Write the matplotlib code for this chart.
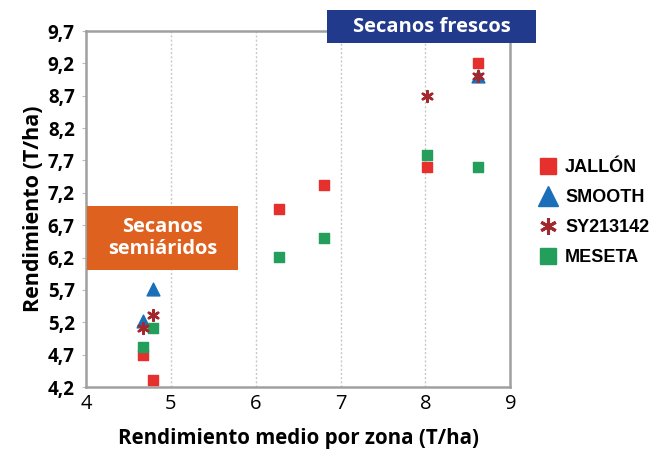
import matplotlib
matplotlib.use("Agg")
import matplotlib.pyplot as plt
from matplotlib.patches import Rectangle
from matplotlib.lines import Line2D

# Data
jallon_x = [4.67, 4.79, 6.27, 6.80, 8.02, 8.62]
jallon_y = [4.70, 4.31, 6.95, 7.32, 7.60, 9.21]
smooth_x = [4.79, 4.67, 8.62]
smooth_y = [5.72, 5.22, 9.00]
sy_x = [4.79, 4.67, 8.02, 8.62]
sy_y = [5.31, 5.11, 8.70, 9.00]
meseta_x = [4.67, 4.79, 6.27, 6.80, 8.02, 8.62]
meseta_y = [4.82, 5.11, 6.21, 6.50, 7.78, 7.60]

yticks = [4.2, 4.7, 5.2, 5.7, 6.2, 6.7, 7.2, 7.7, 8.2, 8.7, 9.2, 9.7]
ytick_labels = ["4,2", "4,7", "5,2", "5,7", "6,2", "6,7", "7,2", "7,7", "8,2", "8,7", "9,2", "9,7"]
xticks = [4, 5, 6, 7, 8, 9]
series_names = ["JALLÓN", "SMOOTH", "SY213142", "MESETA"]

RED = "#E5302E"
BLUE = "#1A6FB8"
STAR = "#A3282E"
GREEN = "#239E5B"

fig = plt.figure(figsize=(6.61, 4.5), dpi=100)
ax = fig.add_axes([0.130, 0.140, 0.642, 0.791])

ax.set_xlim(4, 9)
ax.set_ylim(4.2, 9.7)
ax.set_xticks(xticks)
ax.set_yticks(yticks)
ax.set_yticklabels(ytick_labels, fontfamily="Open Sans", fontweight="bold", fontsize=13.5)
ax.set_xticklabels([str(v) for v in xticks], fontfamily="Open Sans", fontsize=14.5)
ax.tick_params(axis="y", length=3, color="#bbbbbb", pad=5)
ax.tick_params(axis="x", length=0, pad=5)

for v in [5, 6, 7, 8]:
    ax.axvline(v, color="#c8c8c8", linestyle=(0, (1.5, 1.5)), linewidth=1.0, zorder=0)

for s in ax.spines.values():
    s.set_color("#a0a0a0")
    s.set_linewidth(1.8)

ax.scatter(jallon_x, jallon_y, marker="s", s=60, color=RED, zorder=3)
ax.scatter(smooth_x, smooth_y, marker="^", s=85, color=BLUE, zorder=3)
ax.scatter(sy_x, sy_y, marker=(6, 2, 0), s=60, color=STAR, linewidths=1.8, zorder=4)
ax.scatter(meseta_x, meseta_y, marker="s", s=60, color=GREEN, zorder=3)

ax.set_xlabel("Rendimiento medio por zona (T/ha)", fontfamily="Open Sans", fontweight="bold",
              fontsize=14.8, labelpad=10)
ax.set_ylabel("Rendimiento (T/ha)", fontfamily="Open Sans", fontweight="bold", fontsize=15.5, labelpad=3)

# Annotation boxes (figure pixel coordinates -> fraction)
W, H = 661.0, 450.0
def fig_rect(x0, y0, x1, y1, color):
    r = Rectangle((x0 / W, 1 - y1 / H), (x1 - x0) / W, (y1 - y0) / H,
                  transform=fig.transFigure, facecolor=color, edgecolor="none", zorder=10)
    fig.add_artist(r)
    return ((x0 + x1) / 2 / W, 1 - (y0 + y1) / 2 / H)

cx, cy = fig_rect(327, 10, 536, 43, "#213A8C")
fig.text(cx, cy, "Secanos frescos", color="white", fontfamily="Open Sans", fontweight="bold",
         fontsize=14.5, ha="center", va="center", zorder=11)
cx, cy = fig_rect(87, 206, 238, 270, "#DF6120")
fig.text(cx, cy, "Secanos\nsemiáridos", color="white", fontfamily="Open Sans", fontweight="bold",
         fontsize=14.4, ha="center", va="center", linespacing=1.1, zorder=11)

handles = [
    Line2D([], [], linestyle="none", marker="s", markersize=12, color=RED),
    Line2D([], [], linestyle="none", marker="^", markersize=14, color=BLUE),
    Line2D([], [], linestyle="none", marker=(6, 2, 0), markersize=12, color=STAR, markeredgewidth=2.2),
    Line2D([], [], linestyle="none", marker="s", markersize=12, color=GREEN),
]
fig.legend(handles, series_names, loc="upper left", bbox_to_anchor=(520 / W, 1 - 143 / H), frameon=False,
           prop={"family": "Liberation Sans", "weight": "bold", "size": 13},
           handletextpad=0.3, labelspacing=0.72, handlelength=1.3)

fig.savefig("out.png", dpi=100)
